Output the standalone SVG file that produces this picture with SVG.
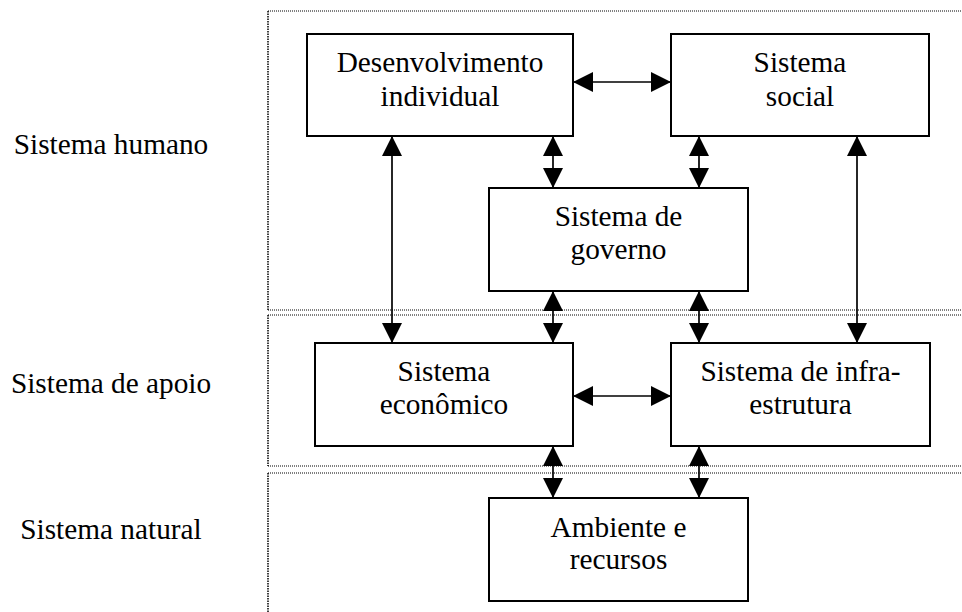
<svg xmlns="http://www.w3.org/2000/svg" width="962" height="612" viewBox="0 0 962 612">
<defs>
<marker id="ah" markerUnits="userSpaceOnUse" markerWidth="20" markerHeight="20" refX="20" refY="10" orient="auto-start-reverse" viewBox="0 0 20 20">
<path d="M0,0 L20,10 L0,20 Z" fill="#000"/>
</marker>
</defs>
<style>
.box{fill:#fff;stroke:#000;stroke-width:2}
.t{font-family:"Liberation Serif","Times New Roman",serif;font-size:29.3px;fill:#000;text-anchor:middle}
.dh{stroke:#000;stroke-width:1;stroke-dasharray:1 1;fill:none}
.dv{stroke:#000;stroke-width:1.5;stroke-dasharray:1.5 1;fill:none}
.c{stroke:#000;stroke-width:1.7;fill:none;marker-start:url(#ah);marker-end:url(#ah)}
</style>
<rect width="962" height="612" fill="#fff"/>
<g id="regions">
<line class="dh" x1="268" y1="11" x2="961" y2="11"/>
<line class="dh" x1="268" y1="310" x2="961" y2="310"/>
<line class="dh" x1="268" y1="315" x2="961" y2="315"/>
<line class="dh" x1="268" y1="466" x2="961" y2="466"/>
<line class="dh" x1="268" y1="473" x2="961" y2="473"/>
<line class="dv" x1="268" y1="11" x2="268" y2="310"/>
<line class="dv" x1="268" y1="315" x2="268" y2="466"/>
<line class="dv" x1="268" y1="473" x2="268" y2="612"/>
</g>
<g id="labels">
<text class="t" x="111" y="154">Sistema humano</text>
<text class="t" x="111" y="393">Sistema de apoio</text>
<text class="t" x="111" y="539">Sistema natural</text>
</g>
<g id="connectors">
<line class="c" x1="573" y1="82" x2="671" y2="82"/>
<line class="c" x1="553" y1="136" x2="553" y2="188"/>
<line class="c" x1="699" y1="136" x2="699" y2="188"/>
<line class="c" x1="392" y1="136" x2="392" y2="343"/>
<line class="c" x1="857" y1="136" x2="857" y2="343"/>
<line class="c" x1="553" y1="291" x2="553" y2="343"/>
<line class="c" x1="699" y1="291" x2="699" y2="343"/>
<line class="c" x1="573" y1="396" x2="671" y2="396"/>
<line class="c" x1="553" y1="446" x2="553" y2="498"/>
<line class="c" x1="699" y1="446" x2="699" y2="498"/>
</g>
<g id="desenvolvimento">
<rect class="box" x="307" y="34" width="266" height="102"/>
<text class="t" x="440" y="72">Desenvolvimento</text>
<text class="t" x="440" y="106">individual</text>
</g>
<g id="social">
<rect class="box" x="671" y="34" width="258" height="102"/>
<text class="t" x="800" y="72">Sistema</text>
<text class="t" x="800" y="106">social</text>
</g>
<g id="governo">
<rect class="box" x="489" y="188" width="259" height="103"/>
<text class="t" x="618.5" y="226">Sistema de</text>
<text class="t" x="618.5" y="259">governo</text>
</g>
<g id="economico">
<rect class="box" x="315" y="343" width="258" height="103"/>
<text class="t" x="444" y="381">Sistema</text>
<text class="t" x="444" y="414">econômico</text>
</g>
<g id="infra">
<rect class="box" x="671" y="343" width="259" height="103"/>
<text class="t" x="800.5" y="381">Sistema de infra-</text>
<text class="t" x="800.5" y="414">estrutura</text>
</g>
<g id="ambiente">
<rect class="box" x="489" y="498" width="259" height="103"/>
<text class="t" x="618.5" y="537">Ambiente e</text>
<text class="t" x="618.5" y="569">recursos</text>
</g>
</svg>
